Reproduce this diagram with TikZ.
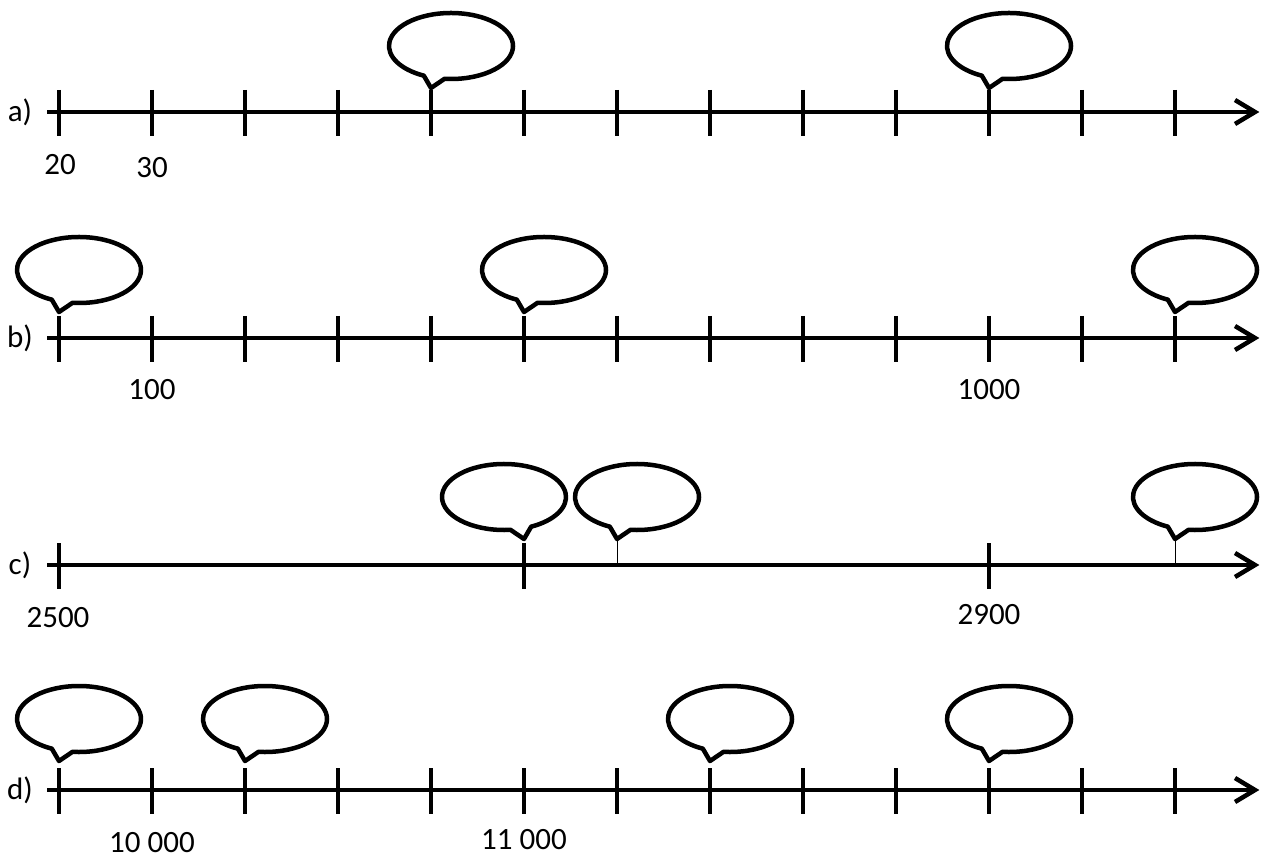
\documentclass[tikz,border=0pt]{standalone}
\usepackage{fontspec}
\setmainfont{Carlito}
\tikzset{
  axisline/.style={line width=4.5pt},
  tickline/.style={line width=4.5pt},
  hairline/.style={line width=1pt},
  lbl/.style={font=\fontsize{31}{37}\selectfont, inner sep=0pt},
  bubble/.pic={
    \draw[line width=4.5pt, line join=round, fill=white]
      (20,42) ++(264:62 and 33)
      arc[start angle=264, end angle=604, x radius=62, y radius=33]
      -- (0,0) -- cycle;
  }
}
\begin{document}
\begin{tikzpicture}[x=1pt,y=1pt]
\useasboundingbox (0,0) rectangle (1265,860);
\foreach \r/\Y in {a/748,b/522,c/295,d/70}{
  \coordinate (\r s) at (47,\Y);
  \coordinate (\r e) at (1255,\Y);
  \foreach \k in {0,...,12}{\coordinate (\r\k) at ({59+93*\k},\Y);}
  \node[lbl] (\r lab) at (20,\Y) {\r)};
  \draw[axisline] (\r s) -- (\r e);
  \draw[axisline, line join=miter] ([shift={(-20,12)}]\r e) -- (\r e) -- ([shift={(-20,-12)}]\r e);
}
% ticks
\foreach \r in {a,b,d}{
  \foreach \k in {0,...,12}{\draw[tickline] ([yshift=22pt]\r\k) -- ([yshift=-24pt]\r\k);}
}
\foreach \k in {0,5,10}{\draw[tickline] ([yshift=22pt]c\k) -- ([yshift=-24pt]c\k);}
% thin leaders in c
\draw[hairline] (c6) -- ([yshift=26pt]c6);
\draw[hairline] (c12) -- ([yshift=26pt]c12);
% callouts
\pic at ([yshift=24pt]a4) {bubble};
\pic at ([yshift=24pt]a10) {bubble};
\pic at ([yshift=26pt]b0) {bubble};
\pic at ([yshift=26pt]b5) {bubble};
\pic at ([yshift=26pt]b12) {bubble};
\pic[xscale=-1] at ([yshift=26pt]c5) {bubble};
\pic at ([yshift=26pt]c6) {bubble};
\pic at ([yshift=26pt]c12) {bubble};
\pic at ([yshift=29pt]d0) {bubble};
\pic at ([yshift=29pt]d2) {bubble};
\pic at ([yshift=29pt]d7) {bubble};
\pic at ([yshift=29pt]d10) {bubble};
% value labels
\node[lbl] (a20) at (60,695) {20};
\node[lbl] (a30) at (152,692) {30};
\node[lbl] (b100) at (152,470) {100};
\node[lbl] (b1000) at (989,470) {1000};
\node[lbl] (c2500) at (58,242) {2500};
\node[lbl] (c2900) at (989,245) {2900};
\node[lbl] (d10000) at (152,17) {10 000};
\node[lbl] (d11000) at (524,20) {11 000};
\end{tikzpicture}
\end{document}
